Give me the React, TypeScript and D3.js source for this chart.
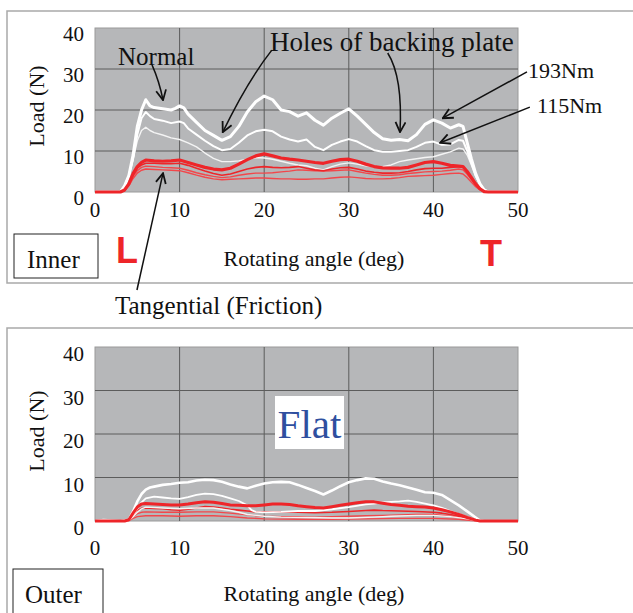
import * as d3 from 'd3'

type Pt = [number, number]

const xTicks = [0, 10, 20, 30, 40, 50]
const yTicks = [0, 10, 20, 30, 40]
const xGrid = [10, 20, 30, 40]
const yGrid = [10, 20, 30]

// Inner pad, normal load (white)
const innerNormal193: Pt[] = [[0,0],[3,0],[3.5,1.5],[4,4],[4.5,9],[5,16],[5.5,20],[6,22.5],[6.5,21],[7,20.6],[8,20.3],[9,20],[9.5,20.4],[10,21],[10.5,20.5],[11,19],[12,17],[13,15],[14,13.8],[15,12.6],[16,13.5],[17,16],[18,19.5],[19,22],[20,23.4],[21,22.5],[22,20],[23,19.6],[24,18.5],[25,19.3],[26,17.5],[27,16.3],[28,18],[29,19.2],[30,20.3],[31,18.5],[32,16.5],[33,14.5],[34,13],[35,12.6],[36,12.8],[37,12.5],[38,14],[39,16.5],[40,17.6],[41,16.8],[42,15.6],[43,16.4],[43.5,16],[44,12],[44.5,8],[45,4.5],[45.5,2],[46,0.5],[46.5,0],[50,0]]
const innerNormal115: Pt[] = [[0,0],[3,0],[3.5,1.5],[4,4],[4.5,8],[5,14],[5.5,18],[6,19.5],[6.5,18.5],[7,17.8],[8,17.4],[9,16.8],[10,17.2],[10.5,16.8],[11,15.5],[12,14],[13,12.5],[14,11.2],[15,10.2],[16,10.5],[17,12],[18,13.8],[19,14.8],[20,15.2],[21,14.8],[22,13.5],[23,12.8],[24,12.3],[25,12.8],[26,11],[27,10.2],[28,11.5],[29,12.3],[30,12.9],[31,12.3],[32,11.2],[33,10.2],[34,9.8],[35,9.8],[36,10],[37,10.2],[38,11],[39,12],[40,12.3],[41,11.5],[42,11.6],[43,12.7],[43.5,12.5],[44,10],[44.5,7],[45,4],[45.5,2],[46,0.5],[46.5,0],[50,0]]
const innerNormalLow: Pt[] = [[0,0],[3,0],[3.5,1.5],[4,4],[4.5,8],[5,12.5],[5.5,15],[6,15.8],[6.5,15],[7,14.5],[8,13.9],[9,13.2],[10,12.8],[11,12],[12,11],[13,9.5],[14,8.2],[15,7.4],[16,7.4],[17,7.6],[18,8],[19,8.4],[20,8.3],[21,8],[22,7.5],[23,7],[24,6.6],[25,6.4],[26,5.8],[27,5.4],[28,6.2],[29,6.8],[30,7.1],[31,6.8],[32,6.4],[33,6.2],[34,6.2],[35,6.6],[36,7.4],[37,7.8],[38,8.1],[39,8.4],[40,8.6],[41,9.2],[42,9.8],[43,10.7],[43.5,10.5],[44,9],[44.5,6.5],[45,3.8],[45.5,1.8],[46,0.5],[46.5,0],[50,0]]

// Inner pad, tangential load (red)
const innerTangA: Pt[] = [[0,0],[3,0],[3.5,0.5],[4,2],[4.5,4.5],[5,6.2],[5.5,7.2],[6,7.8],[7,7.6],[8,7.5],[9,7.6],[10,7.8],[11,7.2],[12,6.6],[13,6],[14,5.6],[15,5.4],[16,5.8],[17,6.8],[18,7.9],[19,8.8],[20,9.3],[21,8.8],[22,8.3],[23,8],[24,7.8],[25,7.5],[26,7.2],[27,7],[28,7.5],[29,7.9],[30,8],[31,7.5],[32,6.8],[33,6.2],[34,5.9],[35,5.8],[36,5.8],[37,6],[38,6.6],[39,7.2],[40,7.4],[41,7],[42,6.5],[43,6.3],[43.5,6.2],[44,5],[44.5,3.5],[45,2],[45.5,0.8],[46,0.1],[46.5,0],[50,0]]
const innerTangB: Pt[] = [[0,0],[3,0],[3.5,0.5],[4,2],[4.5,4.2],[5,5.8],[5.5,6.6],[6,7],[7,7],[8,6.9],[9,6.9],[10,7],[11,6.5],[12,5.8],[13,5.1],[14,4.5],[15,4.1],[16,4.4],[17,5],[18,5.6],[19,6],[20,6.2],[21,6],[22,5.9],[23,6],[24,6.2],[25,5.8],[26,5.4],[27,5.2],[28,5.6],[29,5.9],[30,6],[31,5.6],[32,5.1],[33,4.8],[34,4.6],[35,4.6],[36,4.7],[37,5],[38,5.4],[39,5.7],[40,5.8],[41,5.8],[42,6],[43,6.2],[43.5,6],[44,4.8],[44.5,3.3],[45,1.8],[45.5,0.7],[46,0.1],[46.5,0],[50,0]]
const innerTangC: Pt[] = [[0,0],[3,0],[3.5,0.4],[4,1.8],[4.5,3.8],[5,5.2],[5.5,6],[6,6.3],[7,6.2],[8,6],[9,5.9],[10,5.8],[11,5.3],[12,4.7],[13,4.2],[14,3.8],[15,3.5],[16,3.7],[17,4.1],[18,4.4],[19,4.6],[20,4.6],[21,4.7],[22,4.9],[23,5.1],[24,5.4],[25,5.3],[26,5.2],[27,5.1],[28,5.2],[29,5.3],[30,5.4],[31,5],[32,4.6],[33,4.3],[34,4.1],[35,4.1],[36,4.2],[37,4.5],[38,4.7],[39,4.9],[40,5],[41,5.1],[42,5.3],[43,5.6],[43.5,5.4],[44,4.3],[44.5,3],[45,1.6],[45.5,0.6],[46,0.1],[46.5,0],[50,0]]
const innerTangD: Pt[] = [[0,0],[3,0],[3.5,0.3],[4,1.5],[4.5,3.3],[5,4.6],[5.5,5.3],[6,5.6],[7,5.5],[8,5.4],[9,5.3],[10,5.2],[11,4.7],[12,4.1],[13,3.6],[14,3.2],[15,3],[16,3.1],[17,3.2],[18,3.3],[19,3.4],[20,3.4],[21,3.3],[22,3.2],[23,3.2],[24,3.1],[25,3.1],[26,3.2],[27,3.2],[28,3.4],[29,3.6],[30,3.7],[31,3.5],[32,3.3],[33,3.2],[34,3.2],[35,3.3],[36,3.5],[37,3.8],[38,3.9],[39,4],[40,4.1],[41,4.3],[42,4.5],[43,4.6],[43.5,4.4],[44,3.5],[44.5,2.4],[45,1.3],[45.5,0.5],[46,0.1],[46.5,0],[50,0]]

// Outer pad, normal load (white)
const outerNormalA: Pt[] = [[0,0],[1,0.2],[3,0],[4,0.3],[4.5,2.2],[5,4.5],[5.5,6.2],[6,7.2],[6.5,7.7],[7,7.9],[8,8.3],[9,8.5],[10,8.8],[11,8.9],[12,9.3],[13,9.5],[14,9.4],[15,9],[16,8.4],[17,7.9],[18,7.5],[19,8.1],[20,8.6],[21,8.9],[22,9],[23,8.9],[24,8.3],[25,7.6],[26,6.9],[27,6.1],[28,7],[29,8],[30,8.9],[31,9.4],[32,9.8],[33,9.7],[34,9.1],[35,8.6],[36,8.2],[37,7.7],[38,7.2],[39,6.6],[40,6.5],[41,6],[42,4.8],[43,3.6],[44,2.2],[45,0.8],[45.5,0.1],[46,0],[50,0]]
const outerNormalB: Pt[] = [[0,0],[3,0],[4,0.2],[4.5,1.4],[5,2.8],[5.5,4.3],[6,5.2],[7,5.6],[8,5.4],[9,5.2],[10,5.1],[11,5.5],[12,6],[13,6.3],[14,6.2],[15,5.8],[16,5.2],[17,4.6],[18,3.6],[18.5,2.5],[19,2.1],[20,2],[22,2.1],[24,2.3],[26,2.3],[28,2.7],[30,3.2],[32,3.8],[33,4],[34,4.3],[36,4.5],[37,4.7],[38,4.4],[39,4],[40,3.6],[41,3],[42,2.3],[43,1.6],[44,0.9],[45,0.3],[45.5,0],[50,0]]
const outerNormalC: Pt[] = [[0,0],[3,0],[4,0.1],[4.5,1],[5,2],[5.5,2.8],[6,3.2],[8,3],[10,2.8],[12,3],[14,3],[16,2.4],[17,2],[18,1.5],[20,1.1],[22,0.9],[25,0.8],[28,0.7],[30,0.7],[33,0.9],[35,1.1],[38,1.3],[40,1.3],[42,1],[44,0.5],[45,0.1],[46,0],[50,0]]

// Outer pad, tangential load (red)
const outerTangA: Pt[] = [[0,0],[3.5,0],[4,0.3],[4.5,1.8],[5,3.2],[5.5,3.9],[6,4],[7,3.9],[8,3.8],[9,3.7],[10,3.7],[11,3.9],[12,4.2],[13,4.4],[14,4.3],[15,4],[16,3.7],[17,3.6],[18,3.5],[19,3.5],[20,3.7],[21,3.9],[22,3.9],[23,3.8],[24,3.5],[25,3.3],[26,3.1],[27,3],[28,3.3],[29,3.6],[30,3.9],[31,4.2],[32,4.4],[33,4.4],[34,4.1],[35,3.8],[36,3.6],[37,3.4],[38,3.3],[39,3.2],[40,3],[41,2.6],[42,2.1],[43,1.5],[44,0.8],[45,0.2],[45.5,0],[50,0]]
const outerTangB: Pt[] = [[0,0],[3.5,0],[4,0.2],[4.5,1.4],[5,2.4],[5.5,2.9],[6,3],[7,2.9],[8,2.8],[9,2.6],[10,2.5],[11,2.7],[12,3],[13,3.3],[14,3.2],[15,3],[16,2.7],[17,2.5],[18,2.3],[19,2.1],[20,2.1],[22,2.1],[24,2],[26,1.9],[28,2],[30,2.2],[32,2.4],[33,2.5],[34,2.4],[36,2.3],[38,2.2],[40,2],[41,1.8],[42,1.5],[43,1.1],[44,0.6],[45,0.1],[45.5,0],[50,0]]
const outerTangC: Pt[] = [[0,0],[3.5,0],[4,0.1],[4.5,1],[5,1.7],[5.5,2],[6,2.1],[8,2],[10,2],[12,2.1],[14,2.1],[16,1.8],[18,1.4],[20,1.1],[22,1],[24,1],[26,0.9],[28,1],[30,1.1],[32,1.2],[34,1.3],[36,1.4],[38,1.5],[40,1.5],[42,1.1],[43,0.8],[44,0.4],[45,0.1],[45.5,0],[50,0]]
const outerTangD: Pt[] = [[0,0],[3.5,0],[4,0.1],[4.5,0.6],[5,1],[6,1.2],[8,1.2],[10,1.1],[12,1.2],[14,1.2],[16,1],[18,0.7],[20,0.5],[24,0.4],[28,0.4],[32,0.5],[36,0.6],[40,0.6],[43,0.4],[44.5,0.1],[45.5,0],[50,0]]

const SERIF = '"Liberation Serif", "Times New Roman", serif'
const SANS = '"Liberation Sans", Arial, sans-serif'
const PLOT_BG = '#b6b7b9'
const GRID = '#5c5c5c'
const RED = '#ee2529'
const RED_LIGHT = '#f2474b'
const FRAME = '#a9a9a9'

type Series = { data: Pt[]; color: string; width: number }

const innerSeries: Series[] = [
  { data: innerNormalLow, color: '#f4f4f4', width: 1.4 },
  { data: innerNormal115, color: '#ffffff', width: 2 },
  { data: innerNormal193, color: '#ffffff', width: 3 },
  { data: innerTangD, color: RED_LIGHT, width: 1.4 },
  { data: innerTangC, color: RED_LIGHT, width: 1.4 },
  { data: innerTangB, color: RED, width: 1.6 },
  { data: innerTangA, color: RED, width: 3.2 },
]

const outerSeries: Series[] = [
  { data: outerTangD, color: RED_LIGHT, width: 1.4 },
  { data: outerTangC, color: RED_LIGHT, width: 1.4 },
  { data: outerTangB, color: RED, width: 1.6 },
  { data: outerNormalC, color: '#f4f4f4', width: 1.4 },
  { data: outerNormalB, color: '#ffffff', width: 1.8 },
  { data: outerNormalA, color: '#ffffff', width: 2.6 },
  { data: outerTangA, color: RED, width: 3 },
]

function Panel({ top, bottom, series, xLabelY, yLabelDy, titleY, loadY }: {
  top: number; bottom: number; series: Series[]; xLabelY: number; yLabelDy: number; titleY: number; loadY: number
}) {
  const x = d3.scaleLinear().domain([0, 50]).range([95, 518])
  const y = d3.scaleLinear().domain([0, 40]).range([bottom, top])
  const line = d3.line<Pt>().x(d => x(d[0])).y(d => y(d[1]))
  return (
    <g>
      <rect x={x(0)} y={y(40)} width={x(50) - x(0)} height={y(0) - y(40)} fill={PLOT_BG} stroke="#9a9a9a" strokeWidth={1} />
      {xGrid.map(t => <line key={'gx' + t} x1={x(t)} x2={x(t)} y1={y(0)} y2={y(40)} stroke={GRID} strokeWidth={1} />)}
      {yGrid.map(t => <line key={'gy' + t} x1={x(0)} x2={x(50)} y1={y(t)} y2={y(t)} stroke={GRID} strokeWidth={1} />)}
      {series.map((s, i) => (
        <path key={i} d={line(s.data) || ''} fill="none" stroke={s.color} strokeWidth={s.width} strokeLinejoin="round" />
      ))}
      {yTicks.map(t => (
        <text key={'ty' + t} x={84} y={y(t) + yLabelDy} textAnchor="end" fontFamily={SERIF} fontSize={21} fill="#111">{t}</text>
      ))}
      {xTicks.map(t => (
        <text key={'tx' + t} x={x(t)} y={xLabelY} textAnchor="middle" fontFamily={SERIF} fontSize={21} fill="#111">{t}</text>
      ))}
      <text transform={`translate(44,${loadY}) rotate(-90)`} textAnchor="middle" fontFamily={SERIF} fontSize={22} fill="#111">Load (N)</text>
      <text x={314} y={titleY} textAnchor="middle" fontFamily={SERIF} fontSize={22} fill="#111">Rotating angle (deg)</text>
    </g>
  )
}

export default function App() {
  const x = d3.scaleLinear().domain([0, 50]).range([95, 518])
  const y = d3.scaleLinear().domain([0, 40]).range([192, 28])
  const P = (d: number, n: number) => `${x(d)},${y(n)}`
  const arrows = [
    `M${P(6.74, 31)} Q${P(7.6, 27)} ${P(8.04, 22.4)}`,
    `M${P(20.9, 34.6)} Q${P(18, 27)} ${P(15.1, 14.6)}`,
    `M${P(34.6, 33.9)} Q${P(36.4, 28)} ${P(36.05, 14.6)}`,
    `M${P(51.06, 29.3)} L${P(41.1, 18)}`,
    `M${P(51.4, 20.7)} L${P(40.8, 12)}`,
    `M${P(4.96, -23.9)} L${P(8.04, 4.6)}`,
  ]
  return (
    <svg width={633} height={613} style={{ position: 'absolute', left: 0, top: 0, background: '#fff' }}>
      <defs>
        <marker id="ah" viewBox="0 0 12 12" refX={11} refY={6} markerWidth={12} markerHeight={12} markerUnits="userSpaceOnUse" orient="auto">
          <path d="M1,1 L11,6 L1,11" fill="none" stroke="#111" strokeWidth={1.8} />
        </marker>
      </defs>
      <rect width={633} height={613} fill="#fff" />
      <path d="M640,11 H7 V283 H640" fill="none" stroke={FRAME} strokeWidth={1.5} />
      <path d="M640,328 H7 V640" fill="none" stroke={FRAME} strokeWidth={1.5} />

      <Panel top={28} bottom={192} series={innerSeries} xLabelY={217} yLabelDy={13} titleY={266} loadY={106} />
      <Panel top={347} bottom={521} series={outerSeries} xLabelY={555} yLabelDy={14} titleY={601} loadY={431} />

      {arrows.map((d, i) => (
        <path key={i} d={d} fill="none" stroke="#111" strokeWidth={1.5} markerEnd="url(#ah)" />
      ))}

      <text x={118} y={65} fontFamily={SERIF} fontSize={25} fill="#111">Normal</text>
      <text x={270} y={51} fontFamily={SERIF} fontSize={27} fill="#111">Holes of backing plate</text>
      <text x={528} y={78} fontFamily={SERIF} fontSize={22} fill="#111">193Nm</text>
      <text x={537} y={113} fontFamily={SERIF} fontSize={22} fill="#111">115Nm</text>
      <text x={115} y={314} fontFamily={SERIF} fontSize={25} fill="#111">Tangential (Friction)</text>

      <rect x={14} y={234} width={84} height={44} fill="#fff" stroke="#222" strokeWidth={1} />
      <text x={27} y={268} fontFamily={SERIF} fontSize={25} fill="#111">Inner</text>
      <text x={116} y={263} fontFamily={SANS} fontWeight="bold" fontSize={36} fill={RED}>L</text>
      <text x={480} y={266} fontFamily={SANS} fontWeight="bold" fontSize={36} fill={RED}>T</text>

      <rect x={13} y={569} width={90} height={60} fill="#fff" stroke="#222" strokeWidth={1} />
      <text x={25} y={603} fontFamily={SERIF} fontSize={25} fill="#111">Outer</text>

      <rect x={275} y={396} width={69} height={53} fill="#fff" />
      <text x={309.5} y={438} textAnchor="middle" fontFamily={SERIF} fontSize={41} fill="#2f4f9f">Flat</text>
    </svg>
  )
}
